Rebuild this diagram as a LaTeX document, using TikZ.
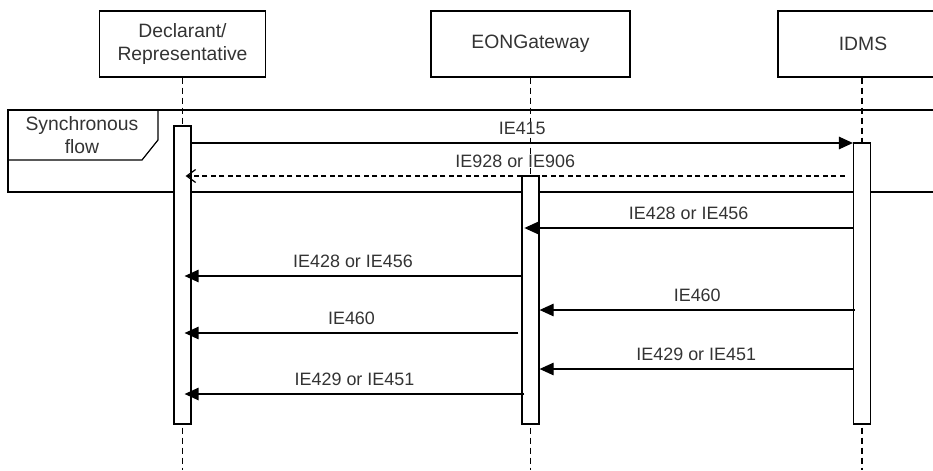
\documentclass[tikz,border=0pt]{standalone}
\usepackage{fontspec}
\setmainfont{Liberation Sans}
\usetikzlibrary{arrows.meta,positioning}

\tikzset{
  party/.style={draw=black, line width=0.7pt, minimum height=1.32cm,
    align=center, text=black!80, font=\fontsize{11}{13}\selectfont},
  actbar/.style={draw=black, fill=white, line width=0.7pt,
    minimum width=0.34cm, inner sep=0pt},
  lifeline/.style={draw=black, line width=0.7pt, dash pattern=on 0.12cm off 0.08cm},
  msg/.style={draw=black, line width=0.7pt, -{Triangle[length=0.28cm,width=0.25cm]}},
  reply/.style={draw=black, line width=0.7pt, dash pattern=on 0.1cm off 0.07cm,
    -{Straight Barb[length=0.18cm,width=0.26cm]}},
  msglabel/.style={above, inner sep=0pt, yshift=0.16cm, text=black!80,
    font=\fontsize{10.2}{12}\selectfont}
}

\begin{document}
\begin{tikzpicture}[x=0.02cm, y=-0.02cm]

\clip (0,0) rectangle (933,470);

% -------- Synchronous flow frame --------
\draw[black, line width=0.7pt] (8,110) rectangle (945,192);
\draw[black, line width=0.7pt] (8,110) -- (158,110) -- (158,140) -- (142,160) -- (8,160);
\node[align=center, text=black!80, font=\fontsize{11}{13.5}\selectfont] (syncflow) at (82,135)
{Synchronous\\flow};

% -------- Participants --------
\node[party, minimum width=3.32cm] (decl) at (182.5,44) {Declarant/\\Representative};
\node[party, minimum width=3.98cm] (eon) at (530.5,44) {EONGateway};
\node[party, minimum width=3.40cm] (idms) at (863,44) {IDMS};

\coordinate (declend) at (182.5,470);
\coordinate (eonend) at (530.5,470);
\coordinate (idmsend) at (862,470);

% -------- Lifelines --------
\draw[lifeline] (decl.south) -- (declend);
\draw[lifeline] (eon.south) -- (eonend);
\draw[lifeline] (idms.south -| idmsend) -- (idmsend);

% -------- Activation bars --------
\node[actbar, minimum height=5.96cm] (declact) at (182.5,275) {};
\node[actbar, minimum height=4.96cm] (eonact) at (530.5,300) {};
\node[actbar, minimum height=5.62cm] (idmsact) at (862,283.5) {};

% -------- Messages --------
\draw[msg] (declact.east |- 0,143) -- (idmsact.west |- 0,143)
  node[msglabel, midway] {IE415};
\draw[reply] ([xshift=-0.16cm]idmsact.west |- 0,176) -- ([xshift=-0.12cm]declact.east |- 0,176)
  node[msglabel, midway] {IE928 or IE906};

\draw[msg] (idmsact.west |- 0,228) -- ([xshift=0.06cm]eonact.west |- 0,228)
  node[msglabel, midway] {IE428 or IE456};
\draw[msg] (eonact.west |- 0,276) -- ([xshift=-0.14cm]declact.east |- 0,276)
  node[msglabel, midway] {IE428 or IE456};

\draw[msg] ([xshift=0.04cm]idmsact.west |- 0,310) -- (eonact.east |- 0,310)
  node[msglabel, midway] {IE460};
\draw[msg] ([xshift=-0.06cm]eonact.west |- 0,333) -- ([xshift=-0.14cm]declact.east |- 0,333)
  node[msglabel, midway] {IE460};

\draw[msg] (idmsact.west |- 0,369) -- (eonact.east |- 0,369)
  node[msglabel, midway] {IE429 or IE451};
\draw[msg] ([xshift=0.06cm]eonact.west |- 0,394) -- ([xshift=-0.14cm]declact.east |- 0,394)
  node[msglabel, midway] {IE429 or IE451};

\end{tikzpicture}
\end{document}
